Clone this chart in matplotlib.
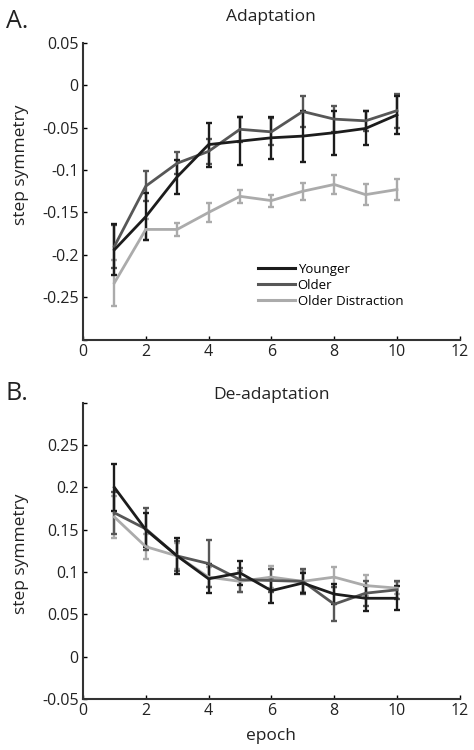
import numpy as np
import matplotlib
matplotlib.use('Agg')
import matplotlib.pyplot as plt

plt.rcParams['font.family'] = ['Open Sans', 'DejaVu Sans']

epochs = [1, 2, 3, 4, 5, 6, 7, 8, 9, 10]
labels = ['Younger', 'Older', 'Older Distraction']
colors = ['#1c1c1c', '#575757', '#ababab']

# adaptation
adapt_young = [-0.194, -0.155, -0.108, -0.070, -0.066, -0.062, -0.060, -0.056, -0.051, -0.035]
adapt_young_err = [0.030, 0.028, 0.020, 0.026, 0.028, 0.025, 0.030, 0.026, 0.020, 0.022]
adapt_old = [-0.190, -0.119, -0.092, -0.078, -0.052, -0.055, -0.031, -0.040, -0.042, -0.030]
adapt_old_err = [0.025, 0.018, 0.013, 0.015, 0.015, 0.016, 0.018, 0.015, 0.012, 0.020]
adapt_dist = [-0.233, -0.170, -0.170, -0.150, -0.131, -0.136, -0.125, -0.117, -0.129, -0.123]
adapt_dist_err = [0.027, 0.012, 0.008, 0.011, 0.008, 0.007, 0.010, 0.011, 0.012, 0.012]

# de-adaptation
deadapt_young = [0.200, 0.150, 0.119, 0.092, 0.099, 0.078, 0.087, 0.074, 0.069, 0.069]
deadapt_young_err = [0.028, 0.020, 0.021, 0.017, 0.014, 0.015, 0.012, 0.012, 0.015, 0.014]
deadapt_old = [0.170, 0.151, 0.119, 0.110, 0.091, 0.090, 0.089, 0.062, 0.075, 0.079]
deadapt_old_err = [0.025, 0.025, 0.018, 0.028, 0.014, 0.013, 0.015, 0.020, 0.015, 0.011]
deadapt_dist = [0.165, 0.130, 0.119, 0.094, 0.089, 0.094, 0.089, 0.094, 0.084, 0.081]
deadapt_dist_err = [0.025, 0.015, 0.015, 0.012, 0.012, 0.013, 0.012, 0.012, 0.012, 0.007]

fig = plt.figure(figsize=(4.74, 7.5), dpi=100)
ax1 = fig.add_axes([0.175, 0.547, 0.795, 0.396])
ax2 = fig.add_axes([0.175, 0.068, 0.795, 0.395])


def draw(ax, series, errs):
    # lightest first so the dark lines end up on top
    for vals, err, col in reversed(list(zip(series, errs, colors))):
        ax.errorbar(epochs, vals, yerr=err, color=col, lw=2.0, elinewidth=1.7,
                    capsize=2.5, capthick=1.7)
    for col, lab in zip(colors, labels):
        ax.plot([], [], color=col, lw=2.2, label=lab)
    for side in ['top', 'right']:
        ax.spines[side].set_visible(False)
    for side in ['left', 'bottom']:
        ax.spines[side].set_linewidth(1.5)
        ax.spines[side].set_color('#333333')
    ax.tick_params(direction='in', length=3, width=1, labelsize=11.5, pad=3,
                   labelcolor='#222222')
    ax.set_xlim(0, 12)
    ax.set_xticks(range(0, 13, 2))


draw(ax1, [adapt_young, adapt_old, adapt_dist], [adapt_young_err, adapt_old_err, adapt_dist_err])
ax1.set_ylim(-0.3, 0.05)
ax1.set_yticks([-0.3, -0.25, -0.2, -0.15, -0.1, -0.05, 0, 0.05])
ax1.set_yticklabels(['', '-0.25', '-0.2', '-0.15', '-0.1', '-0.05', '0', '0.05'])
ax1.set_title('Adaptation', fontsize=12.5, pad=16, color='#222222')
ax1.set_ylabel('step symmetry', fontsize=12.5, color='#222222')
ax1.yaxis.set_label_coords(-0.143, 0.59)
ax1.legend(loc='lower left', bbox_to_anchor=(0.447, 0.085), frameon=False, fontsize=9.5,
           handlelength=2.8, handletextpad=0.2, labelspacing=0.22, borderpad=0)

draw(ax2, [deadapt_young, deadapt_old, deadapt_dist], [deadapt_young_err, deadapt_old_err, deadapt_dist_err])
ax2.set_ylim(-0.05, 0.3)
ax2.set_yticks([-0.05, 0, 0.05, 0.1, 0.15, 0.2, 0.25, 0.3])
ax2.set_yticklabels(['-0.05', '0', '0.05', '0.1', '0.15', '0.2', '0.25', ''])
ax2.set_title('De-adaptation', fontsize=12.5, pad=-7, color='#222222')
ax2.set_ylabel('step symmetry', fontsize=12.5, color='#222222')
ax2.yaxis.set_label_coords(-0.143, 0.49)
ax2.set_xlabel('epoch', fontsize=12.5, labelpad=6, color='#222222')

fig.text(0.012, 1 - 22 / 750, 'A.', fontsize=18, va='center', color='#222222')
fig.text(0.012, 1 - 394 / 750, 'B.', fontsize=18, va='center', color='#222222')

fig.savefig('out.png', dpi=100)
